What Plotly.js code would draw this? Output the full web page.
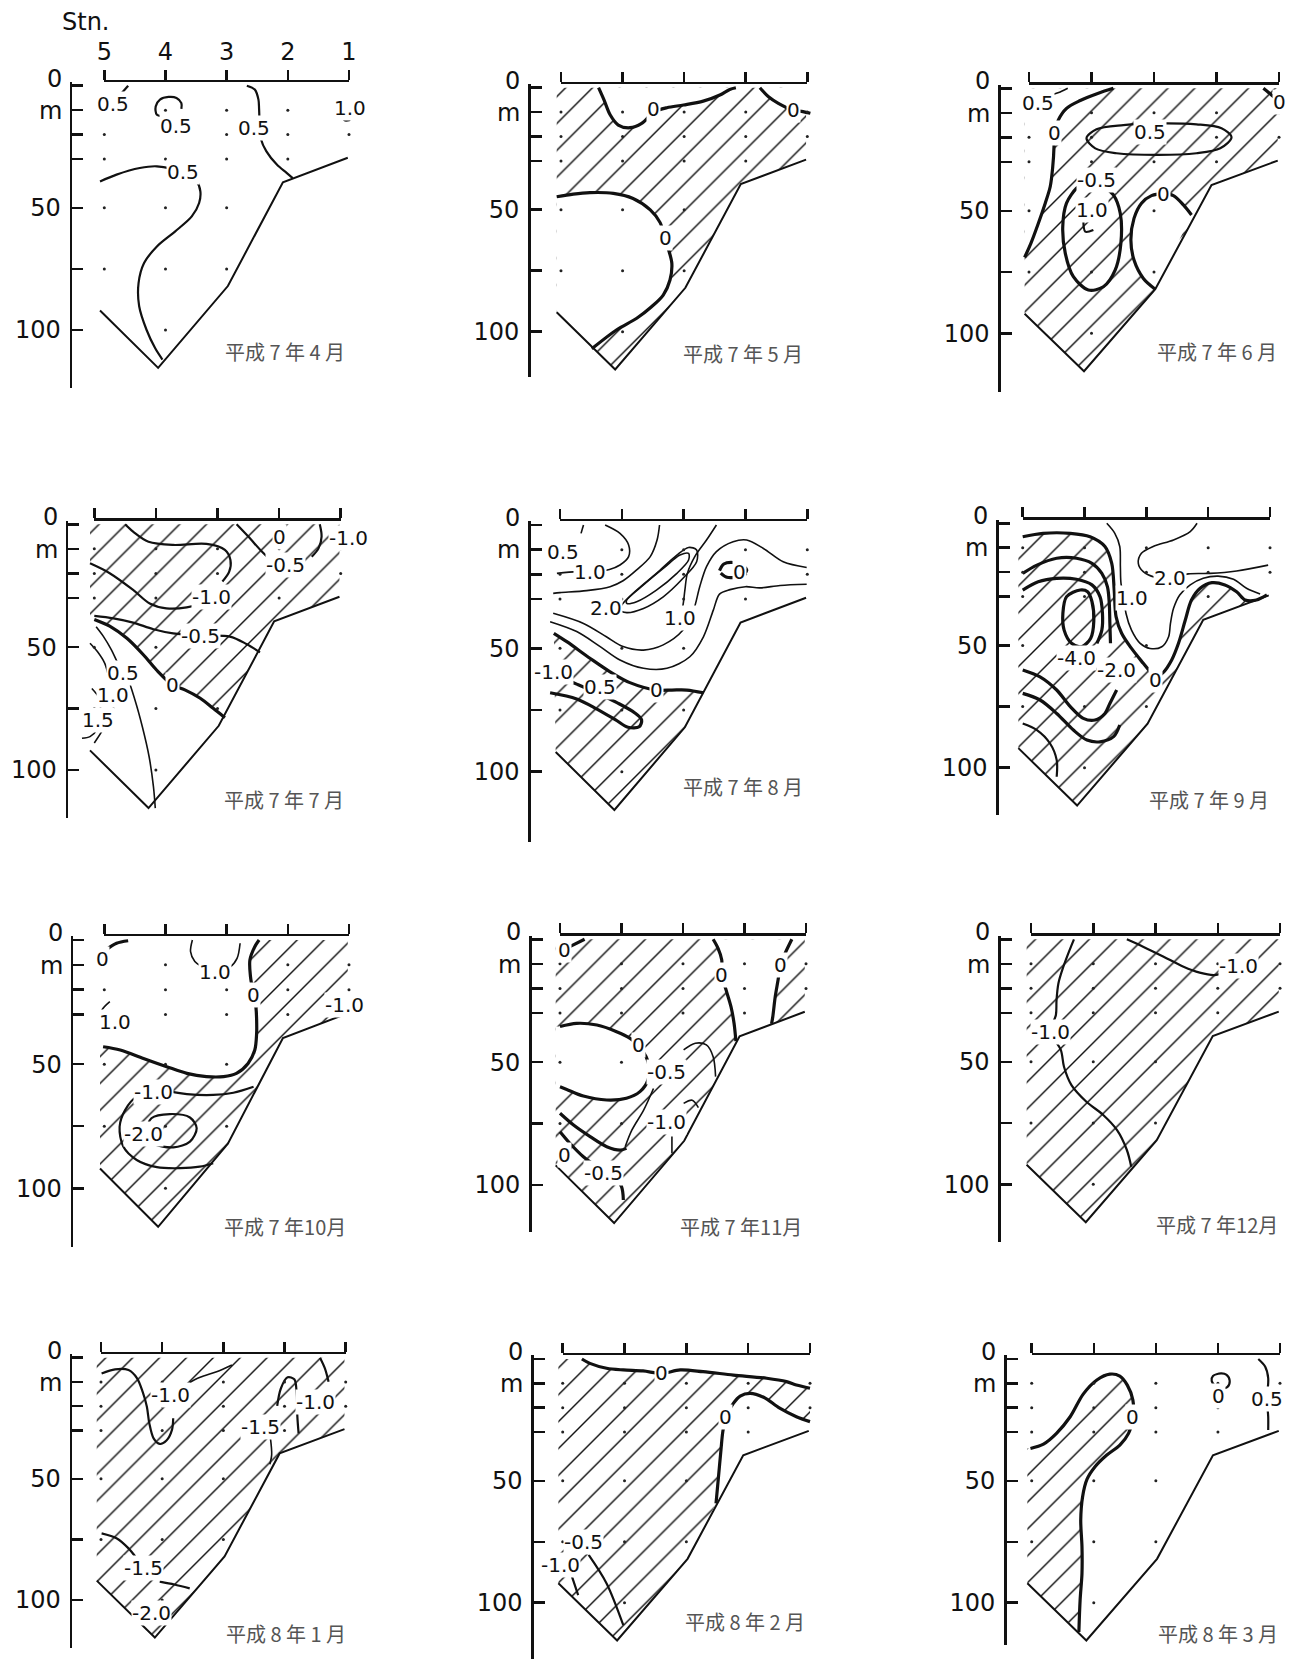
<!DOCTYPE html>
<html><head><meta charset="utf-8">
<script src="https://cdn.plot.ly/plotly-3.0.1.min.js"></script>
<style>html,body{margin:0;padding:0;background:#fff}#chart{width:1294px;height:1660px}</style>
</head><body><div id="chart"></div>
<script>
// ---------- common data ----------
const STATIONS = [5,4,3,2,1];
const STATION_BOTTOM = [92,115,82,39,29.5];
const SAMPLE_DEPTHS = [10,20,30,50,75,100];
const SEABED = [[5.07,92],[4.12,115.5],[2.98,82],[2.08,39.5],[1.02,29.5]];
const SURFACE = [[5.07,0],[1.02,0]];
const DEPTH_TICKS = [0,10,20,30,50,75,100];
const DEPTH_TICKTEXT = ['','','','','50','','100'];
const DEPTH_TOP_LABELS = [['0',-2.8],['m',10.3]];
const MONTHS = ['平成 7 年 4 月','平成 7 年 5 月','平成 7 年 6 月','平成 7 年 7 月','平成 7 年 8 月','平成 7 年 9 月',
                '平成 7 年10月','平成 7 年11月','平成 7 年12月','平成 8 年 1 月','平成 8 年 2 月','平成 8 年 3 月'];

// ---------- April ----------
const apr_c1 = [[4.61,0],[4.74,3.7]];
const apr_loop = [[3.74,9.5],[3.74,7.1],[3.82,5.0],[3.95,4.6],[4.09,5.7],[4.16,8.5],[4.14,11.9],[3.98,12.6]];
const apr_c2 = [[2.67,0],[2.54,1.6],[2.48,5.7],[2.47,9.5],[2.46,16],[2.44,21.8],[2.35,26.9],[2.18,32.3],[2.02,35.7],[1.92,37.8]];
const apr_hook = [[1.10,12.0],[1.07,14.2],[0.98,14.0]];
const apr_c3 = [[5.07,39.2],[4.80,36.4],[4.42,33.7],[4.14,33.0],[3.72,35.5],[3.49,39.2],[3.43,43.2],[3.45,48.0],[3.57,53.5],[3.84,59.6],[4.14,65.8],[4.35,72.6],[4.44,80.8],[4.43,90.3],[4.31,99.9],[4.17,107.4],[4.05,112.1]];
const apr_labels = [[4.86,7.5,'0.5'],[3.82,16.4,'0.5'],[2.56,17.3,'0.5'],[0.98,9.1,'1.0'],[3.72,35.5,'0.5']];

// ---------- May ----------
const may_c0a = [[4.39,0],[4.30,5.1],[4.20,11.2],[4.07,15.3],[3.88,16.4],[3.69,14.6],[3.49,10],[3.28,8.2],[3.01,7.1],[2.69,5.5],[2.42,3.0],[2.26,0.7],[2.16,0]];
const may_c0b = [[1.77,0],[1.63,3.7],[1.47,6.4],[1.23,9.2],[1.07,9.8],[0.95,10.5]];
const may_c0c = [[5.07,44.7],[4.80,43.6],[4.53,43.0],[4.15,43.3],[3.83,45.4],[3.55,50.1],[3.39,55.3],[3.31,61.7],[3.26,65.8],[3.20,72.0],[3.23,78.8],[3.34,85.0],[3.53,89.8],[3.77,94.5],[4.10,99.3],[4.5,107]];
const may_labels = [[3.49,8.9,'0'],[1.23,9.2,'0'],[3.31,61.7,'0']];

// ---------- June ----------
const jun_c0left = [[3.65,0],[3.89,2.0],[4.18,5.0],[4.40,8.2],[4.53,12.9],[4.60,18.4],[4.60,23.8],[4.62,32.0],[4.66,40.1],[4.74,46.9],[4.85,55.1],[4.97,63.3],[5.07,69]];
const jun_c05a = [[4.38,0],[4.50,1.5],[4.62,2.5]];
const jun_oval05 = [[4.08,20.4],[3.92,16.7],[3.49,15.0],[2.93,14.3],[2.32,14.7],[1.92,16.3],[1.76,20.0],[1.94,24.5],[2.32,26.5],[2.93,27.2],[3.60,26.5],[3.94,24.5],[4.08,20.4]];
const jun_ovalm05 = [[4.24,40.8],[4.40,46.9],[4.46,56.5],[4.42,67.3],[4.29,76.9],[4.05,82.3],[3.81,81.0],[3.62,74.1],[3.53,63.3],[3.54,51.0],[3.65,43.5],[3.81,40.1],[4.0,39.0],[4.18,39.9],[4.24,40.8]];
const jun_hook10 = [[4.13,53.7],[4.10,58.5],[3.97,57.8]];
const jun_c0oval = [[2.40,51.7],[2.53,47.6],[2.69,43.8],[2.85,43.1],[3.04,43.8],[3.20,46.9],[3.32,53.1],[3.37,61.9],[3.32,70.1],[3.17,77.6],[2.98,82.0]];
const jun_c0tr = [[1.25,0],[1.12,2.7],[1.06,4.0]];
const jun_labels = [[4.86,6.0,'0.5'],[4.60,18.4,'0'],[3.06,17.7,'0.5'],[3.92,37.4,'-0.5'],[4.0,49.7,'1.0'],[2.85,43.1,'0'],[1.0,5.4,'0']];

// ---------- July ----------
const jul_L1 = [[4.50,0],[4.37,3.0],[4.12,7.1],[3.72,8.4],[3.18,8.0],[2.88,10.4],[2.79,14.5],[2.81,19.3],[2.92,23.3]];
const jul_L2 = [[5.07,15.9],[4.75,19.9],[4.37,26.7],[4.10,32.2],[3.83,34.2],[3.50,33.8],[3.28,32.2],[3.09,29.4]];
const jul_L3 = [[5.0,37.3],[4.69,38.3],[4.37,40.0],[4.04,42.7],[3.72,44.4],[3.28,45.3],[2.80,45.7],[2.53,48.7],[2.31,52.1]];
const jul_L4 = [[5.0,38.7],[4.75,41.4],[4.47,46.4],[4.20,53.2],[3.99,59.3],[3.73,65.4],[3.53,67.4],[3.28,70.8],[3.07,74.9],[2.88,78.7]];
const jul_L5 = [[2.69,0],[2.50,5.0],[2.28,11.1],[2.10,15.5]];
const jul_L7 = [[1.34,0],[1.31,5.0],[1.36,9.8],[1.47,13.2]];
const jul_L05 = [[4.97,41.7],[4.85,45.7],[4.72,51.2],[4.63,55.9],[4.53,60.4],[4.46,62.7],[4.34,71.5],[4.22,82.4],[4.11,94.6],[4.04,106.8],[4.01,115.5]];
const jul_L10 = [[5.07,48.4],[4.95,51.8],[4.83,56.6],[4.76,62.7],[4.70,69.5],[4.69,74.9],[4.80,81.0],[5.0,89]];
const jul_L15 = [[5.04,66.8],[4.92,70.8],[4.90,75.6],[4.94,80],[4.96,83.7],[5.07,86.4],[5.2,87.1]];
const jul_labels = [[1.99,5.0,'0'],[1.90,16.6,'-0.5'],[0.88,5.5,'-1.0'],[3.09,29.4,'-1.0'],[3.28,45.3,'-0.5'],[3.73,65.4,'0'],[4.53,60.4,'0.5'],[4.70,69.5,'1.0'],[4.94,79.6,'1.5']];

// ---------- August ----------
const aug_A = [[4.62,0],[4.66,3.4]];
const aug_B = [[4.27,0],[4.03,3.4],[3.89,8.1],[3.89,12.8],[4.03,16.2],[4.20,18.0],[4.51,18.9],[4.73,18.9],[5.05,19.6]];
const aug_C = [[3.39,0],[3.43,6.1],[3.54,12.8],[3.76,18.2],[3.98,22.6],[4.19,25.0],[4.57,26.6],[5.0,27.4],[5.11,27.7]];
const aug_D1 = [[4.0,32.4],[3.76,26.4],[3.44,19.6],[3.11,12.2],[2.92,9.1],[2.79,10.1],[2.79,14.9],[3.01,21.6],[3.33,29.1],[3.65,33.8],[3.92,35.5],[4.03,34.5],[4.0,32.4]];
const aug_D2 = [[3.92,30.4],[3.65,24.3],[3.33,17.6],[3.06,12.2],[2.92,11.5],[2.92,14.2],[3.11,19.6],[3.44,26.4],[3.76,31.1],[3.92,31.8],[3.92,30.4]];
const aug_E = [[2.47,0],[2.63,6.1],[2.82,12.8],[2.94,19.6],[2.98,26.4],[3.01,32.4],[3.06,37.8]];
const aug_F1 = [[5.11,35.8],[4.62,39.9],[4.25,45.3],[3.98,49.3],[3.65,50.7],[3.33,48.6],[3.01,42.6],[2.84,34.5],[2.74,25.0],[2.63,16.9],[2.47,10.8],[2.20,6.8],[1.98,6.1],[1.71,9.5],[1.39,14.9],[1.01,17.2]];
const aug_F2 = [[5.16,39.2],[4.73,43.2],[4.35,49.3],[4.03,54.7],[3.65,58.1],[3.27,58.1],[2.90,53.4],[2.68,45.3],[2.52,34.5],[2.42,28],[2.25,26.2],[2.0,25],[1.77,25.5],[1.44,24.5],[1.01,24.0]];
const aug_swirl = [[2.42,18.5],[2.35,15.8],[2.2,15.2],[2.05,16.3],[1.98,18.5],[2.1,20.8],[2.3,21.2],[2.4,19.5]];
const aug_F3 = [[5.10,43.9],[4.89,47.3],[4.51,54.1],[4.19,59.5],[3.87,63.9],[3.44,66.9],[3.19,66.9],[2.95,66.9],[2.68,68]];
const aug_loop = [[5.16,60],[4.73,64.5],[4.41,68],[4.08,72],[3.80,76],[3.68,79],[3.72,81.8],[3.90,82],[4.10,79],[4.41,74.5],[4.73,70.5],[5.16,68]];
const aug_labels = [[4.95,10.8,'0.5'],[4.51,18.9,'1.0'],[4.25,33.8,'2.0'],[3.06,37.8,'1.0'],[2.09,19.0,'0'],[5.11,59.5,'-1.0'],[4.35,65.5,'0.5'],[3.44,66.9,'0']];

// ---------- September ----------
const sep_c0 = [[5.0,5.5],[4.67,4.1],[4.23,4.1],[3.91,5.5],[3.67,9.5],[3.56,16.4],[3.52,27.3],[3.49,38.2],[3.40,45.0],[3.24,51.2],[3.05,57.3],[2.94,60.7],[2.86,63],[2.73,61.1],[2.59,55.9],[2.48,49.1],[2.37,39.6],[2.27,31.4],[2.13,26.6],[1.94,24.3],[1.73,25.2],[1.54,28.0],[1.40,31.4],[1.22,31.4],[1.05,29.3]];
const sep_10 = [[3.64,0],[3.51,4.1],[3.43,9.5],[3.42,17.7],[3.41,24.6],[3.36,30.7],[3.33,36.8],[3.24,43.7],[3.10,49.1],[2.94,51.2],[2.75,50.5],[2.64,46.4],[2.61,40.9],[2.56,34.8],[2.46,29.3],[2.29,25.2],[2.08,22.5],[1.84,21.6],[1.59,22.9],[1.38,26.6],[1.16,28.9]];
const sep_20 = [[2.18,0],[2.29,3.4],[2.56,6.8],[2.89,9.5],[3.08,12.3],[3.13,16.4],[3.05,19.8],[2.86,22.1],[2.62,22.5],[2.32,20.7],[1.97,20.5],[1.54,19.5],[1.03,17.1]];
const sep_I1 = [[5.0,20.5],[4.77,17.1],[4.45,14.3],[4.13,14.3],[3.88,16.4],[3.72,20.5],[3.63,25.9],[3.60,32.7],[3.59,40.9],[3.58,49.1]];
const sep_I2 = [[5.0,27.3],[4.75,23.9],[4.45,22.5],[4.13,22.9],[3.88,25.2],[3.75,30.0],[3.71,36.8],[3.72,43.7],[3.80,49.1]];
const sep_oval = [[4.07,27.3],[4.29,30.0],[4.35,36.8],[4.33,43.7],[4.21,49.1],[4.05,50.5],[3.90,47],[3.85,40],[3.88,32],[3.95,28],[4.07,27.3]];
const sep_L1 = [[5.0,60],[4.72,62.8],[4.45,68.2],[4.23,75.0],[4.02,79.8],[3.83,80.5],[3.67,77.8],[3.59,73.7],[3.48,68.2]];
const sep_L2 = [[5.0,69.6],[4.72,72.3],[4.45,77.8],[4.18,84.6],[3.96,88.7],[3.75,89.4],[3.53,87.3],[3.43,82.5]];
const sep_L3 = [[5.0,81.9],[4.77,84.6],[4.56,90.0],[4.45,96.9],[4.45,103.7]];
const sep_labels = [[3.24,30.7,'1.0'],[2.62,22.5,'2.0'],[4.13,55.3,'-4.0'],[3.48,60.0,'-2.0'],[2.86,64.1,'0']];

// ---------- October ----------
const oct_c0 = [[5.02,43.0],[4.74,44.3],[4.36,47.7],[3.98,51.0],[3.65,53.7],[3.33,55.0],[3.05,55.0],[2.84,53.7],[2.65,49.7],[2.54,44.3],[2.51,37.6],[2.51,32.2],[2.52,27.5],[2.56,22.1],[2.61,14.8],[2.62,8.1],[2.54,2.7],[2.47,0]];
const oct_m10 = [[2.56,59.1],[2.89,61.5],[3.22,62.4],[3.65,62.1],[3.95,61.1],[4.20,61.5],[4.47,63.1],[4.66,68.5],[4.75,75.2],[4.69,83.2],[4.47,88.6],[4.14,91.5],[3.76,91.9],[3.44,91.3],[3.22,89.9]];
const oct_m20 = [[3.49,75.8],[3.60,71.5],[3.93,70.1],[4.23,71.8],[4.31,77.2],[4.20,81.9],[3.87,83.5],[3.60,81.2],[3.49,75.8]];
const oct_10top = [[3.56,0],[3.59,4.7],[3.52,8.7],[3.41,10.7],[3.19,12.8],[2.95,11.0],[2.83,7.4],[2.78,1.3]];
const oct_arc = [[4.91,24.8],[5.04,28.2],[5.07,32.2],[5.04,36.2],[4.96,36.9]];
const oct_tl = [[4.96,3.8],[4.80,1.3],[4.61,0.3]];
const oct_labels = [[5.03,7.5,'0'],[3.19,12.8,'1.0'],[2.56,22.1,'0'],[4.83,32.9,'1.0'],[1.07,26.2,'-1.0'],[4.20,61.1,'-1.0'],[4.36,78,'-2.0']];

// ---------- November ----------
const nov_a = [[5.0,35.5],[4.73,34.2],[4.40,34.9],[4.08,37.6],[3.86,40.3],[3.73,43.0],[3.60,47.8],[3.55,51.8],[3.57,57.3],[3.70,62.0],[3.92,64.7],[4.24,65.4],[4.62,63.8],[4.89,61.1],[5.0,60.0]];
const nov_bL = [[2.51,0],[2.43,3.7],[2.37,8.4],[2.37,14.5],[2.30,20.6],[2.22,27.4],[2.17,34.2],[2.14,41.4]];
const nov_bR = [[1.23,0],[1.34,5.7],[1.42,10.4],[1.45,15.9],[1.50,23.3],[1.54,31.5],[1.56,34.4]];
const nov_tl = [[4.84,3],[4.6,0]];
const nov_c1 = [[5.0,70.8],[4.78,75.6],[4.51,80.3],[4.24,84.4],[4.02,85.8],[3.92,85.1]];
const nov_c2 = [[5.0,78.3],[4.84,83.0],[4.62,88.5],[4.40,92.5],[4.13,96.6],[4.0,100.7],[3.97,106.1]];
const nov_c4 = [[3.48,60.7],[3.64,69.5],[3.83,77.6],[3.94,84.4]];
const nov_c5 = [[2.99,45.0],[2.80,42.3],[2.62,43.0],[2.51,47.8],[2.47,55.9]];
const nov_c6 = [[2.99,66.8],[2.85,65.5],[2.75,68.5]];
const nov_c7 = [[3.18,80.3],[3.18,87.1]];
const nov_labels = [[4.93,4.3,'0'],[2.37,14.5,'0'],[1.42,10.4,'0'],[3.73,43.0,'0'],[3.27,53.9,'-0.5'],[3.27,74.2,'-1.0'],[4.93,87.8,'0'],[4.30,95.3,'-0.5']];

// ---------- December ----------
const dec_top = [[3.46,0],[3.20,3.0],[2.87,7.1],[2.55,11.2],[2.29,13.6],[2.06,14.6],[1.88,13.5]];
const dec_left = [[4.31,0],[4.38,4.4],[4.48,11.2],[4.56,18.0],[4.59,24.8],[4.60,30.9],[4.69,37.7],[4.52,45.2],[4.47,52.0],[4.35,59.5],[4.11,66.3],[3.84,71.7],[3.62,77.8],[3.46,86.0],[3.39,92.8]];
const dec_labels = [[1.67,10.9,'-1.0'],[4.69,37.7,'-1.0']];

// ---------- January ----------
const jan_m10a = [[4.99,6.5],[4.77,4.8],[4.55,5.1],[4.41,8.5],[4.32,14.0],[4.25,20.2],[4.21,27.1],[4.14,33.3],[4.04,35.6],[3.93,34.2],[3.84,29.8],[3.82,25.0]];
const jan_thin = [[3.60,10.9],[3.38,8.1],[3.11,5.8],[2.86,3.0]];
const jan_U = [[2.12,19.9],[2.06,12.7],[1.95,8.1],[1.84,8.9],[1.80,15.4],[1.79,24.3],[1.77,31.2]];
const jan_m15v = [[2.23,33.3],[2.21,40],[2.24,44]];
const jan_r = [[1.42,0],[1.34,4.4],[1.28,9.9]];
const jan_m15 = [[4.99,72.5],[4.74,74.6],[4.55,78.7],[4.43,82.4],[4.31,86.9]];
const jan_m20 = [[4.04,92.4],[3.80,93.6],[3.55,95.2]];
const jan_labels = [[3.87,15.5,'-1.0'],[2.40,28.5,'-1.5'],[1.50,18.2,'-1.0'],[4.31,86.9,'-1.5'],[4.17,105.5,'-2.0']];

// ---------- February ----------
const feb_top = [[4.69,0],[4.56,1.8],[4.29,3.8],[4.02,4.5],[3.70,4.9],[3.40,5.9],[3.10,4.5],[2.73,5.2],[2.24,6.6],[1.70,7.9],[1.38,9.3],[1.22,10.7],[1.0,12.0]];
const feb_second = [[1.0,25.7],[1.22,23.7],[1.49,20.2],[1.75,15.7],[1.97,14.1],[2.13,15.2],[2.24,18.2],[2.36,23.7],[2.41,29.8],[2.44,37.3],[2.48,48.3],[2.52,59.2]];
const feb_m05 = [[4.58,80.4],[4.29,92.1],[4.02,109.2]];
const feb_m10 = [[4.85,89.3],[4.75,96.9]];
const feb_labels = [[3.40,5.9,'0'],[2.36,23.7,'0'],[4.67,75.0,'-0.5'],[5.04,84.5,'-1.0']];

// ---------- March ----------
const mar_c0 = [[5.02,36.7],[4.81,34.9],[4.60,30.5],[4.38,23.7],[4.17,14.4],[3.95,8.6],[3.74,6.2],[3.58,7.0],[3.46,10.7],[3.37,16.8],[3.37,23.9],[3.44,30.5],[3.58,35.3],[3.79,39.4],[3.98,44.2],[4.11,49.4],[4.18,56.5],[4.21,66.1],[4.19,77.0],[4.19,88.0],[4.22,98.9],[4.24,112]];
const mar_05 = [[1.35,0],[1.24,3.1],[1.19,7.9],[1.21,16.4],[1.19,23.7],[1.19,29.1]];
const mar_loop = [[1.95,5.9],[2.08,7],[2.10,9],[2.0,12],[1.85,11.5],[1.81,9],[1.86,6.5],[1.95,5.9]];
const mar_labels = [[3.37,23.9,'0'],[1.99,15.2,'0'],[1.21,16.4,'0.5']];

// ---------- assembly ----------
const SECTION = SURFACE.concat(SEABED.slice().reverse());
const SEABED_FROM_ST3 = [[2.98,82],[4.12,115.5],[5.07,92]];

const panels = [
  {hatch:[], blank:[], thick:[], medium:[apr_c1,apr_loop,apr_c2,apr_hook,apr_c3], thin:[], labels:apr_labels},
  {hatch:[SECTION], blank:[may_c0a, may_c0b.concat([[0.95,0]]), may_c0c.concat([[5.07,92]])],
   thick:[may_c0a,may_c0b,may_c0c], medium:[], thin:[], labels:may_labels},
  {hatch:[SECTION], blank:[jun_c0left.concat([[5.07,0]]), jun_c0oval],
   thick:[jun_c0left,jun_c0oval,jun_ovalm05,jun_c0tr], medium:[jun_oval05,jun_hook10], thin:[jun_c05a], labels:jun_labels},
  {hatch:[SECTION], blank:[[[5.07,38.7]].concat(jul_L4, SEABED_FROM_ST3)],
   thick:[jul_L4], medium:[jul_L1,jul_L2,jul_L3,jul_L5,jul_L7], thin:[jul_L05,jul_L10,jul_L15], labels:jul_labels},
  {hatch:[aug_F3.concat(SEABED_FROM_ST3)], blank:[],
   thick:[aug_F3,aug_loop,aug_swirl], medium:[], thin:[aug_A,aug_B,aug_C,aug_D1,aug_D2,aug_E,aug_F1,aug_F2], labels:aug_labels},
  {hatch:[[[5.07,5.5]].concat(sep_c0, SEABED.slice().reverse())], blank:[],
   thick:[sep_c0,sep_I1,sep_I2,sep_oval,sep_L1,sep_L2], medium:[sep_L3], thin:[sep_10,sep_20], labels:sep_labels},
  {hatch:[SECTION], blank:[[[5.07,0],[5.07,43]].concat(oct_c0)],
   thick:[oct_c0,oct_tl], medium:[oct_m10,oct_m20], thin:[oct_10top,oct_arc], labels:oct_labels},
  {hatch:[SECTION], blank:[[[5.07,35.5]].concat(nov_a,[[5.07,60]]), nov_bL.concat([[2.08,39.5]], nov_bR.slice().reverse()), [[5.07,0],[4.6,0],[4.84,3],[5.07,6]]],
   thick:[nov_a,nov_bL,nov_bR,nov_tl,nov_c1,nov_c2], medium:[], thin:[nov_c4,nov_c5,nov_c6,nov_c7], labels:nov_labels},
  {hatch:[SECTION], blank:[], thick:[], medium:[dec_top,dec_left], thin:[], labels:dec_labels},
  {hatch:[SECTION], blank:[], thick:[], medium:[jan_m10a,jan_U,jan_m15,jan_m20,jan_r], thin:[jan_thin,jan_m15v], labels:jan_labels},
  {hatch:[[[5.07,0]].concat(feb_top, feb_second, SEABED_FROM_ST3)], blank:[],
   thick:[feb_top,feb_second], medium:[feb_m05,feb_m10], thin:[], labels:feb_labels},
  {hatch:[[[5.07,36.7]].concat(mar_c0,[[5.07,92]])], blank:[],
   thick:[mar_c0], medium:[mar_05,mar_loop], thin:[], labels:mar_labels}
];

// ---------- layout positions (pixels) ----------
// [station5 x, station1 x, depth0 y, depth100 y, depth-axis x, depth-axis bottom y, month-label right (stn), month-label depth]
const geom = [
  [104.3,349,85.7,330,70.7,388,1.04,108.9],
  [561,807.3,87.7,331.7,529,377,1.03,108.9],
  [1029,1279,88.3,333.3,999.3,392,1.0,107.5],
  [94.3,340.7,524.3,770,66.7,818,0.92,112.2],
  [560,807.3,525,771.7,529.3,842,1.04,106.1],
  [1022.7,1270,523.3,767.7,997.3,815,0.98,113.2],
  [104.3,349,940,1188.3,71.7,1247,1.01,115.5],
  [560,806,939.3,1185,530,1232,1.04,117],
  [1031,1280,939.3,1184.3,999.3,1242,1.0,116.6],
  [101,345.7,1357.7,1600,70.7,1648,0.97,113.7],
  [562.7,810,1359,1602.7,532.3,1659,1.05,107.8],
  [1031.7,1280,1359,1602.7,1005,1645,1.0,112.6]
];

const W=1294, H=1660, XL=5.3, YT=-1.5;
const NUMFONT = 'DejaVu Sans, Verdana, sans-serif';
const data=[], annotations=[];
const layout = {width:W, height:H, margin:{l:0,r:0,t:0,b:0}, paper_bgcolor:'white', plot_bgcolor:'rgba(0,0,0,0)',
  showlegend:false, hovermode:false, annotations:annotations};

const X = a => a.map(p => p ? p[0] : null);
const Y = a => a.map(p => p ? p[1] : null);

const dotX=[], dotY=[];
STATIONS.forEach((s,j) => SAMPLE_DEPTHS.forEach(d => { if (d <= STATION_BOTTOM[j]-4) { dotX.push(s); dotY.push(d); } }));

panels.forEach((P,i) => {
  const k=i+1;
  const [X5,X1,Y0,Y100,AX,BOT,MX,MD] = geom[i];
  const dxs=(X1-X5)/4, dys=(Y100-Y0)/100;
  const left = X5-(XL-5)*dxs;
  const right = Math.min(W-1, X1+0.2*dxs);
  const xr = 1-(right-X1)/dxs;
  const top = Y0+YT*dys;
  const ybot = (BOT-Y0)/dys;
  const xid = k===1?'x':'x'+k, yid = k===1?'y':'y'+k;
  const xname = k===1?'xaxis':'xaxis'+k, yname = k===1?'yaxis':'yaxis'+k;
  layout[xname] = {domain:[left/W, right/W], range:[XL, xr], visible:false, fixedrange:true};
  layout[yname] = {domain:[Math.max(0,1-BOT/H), 1-top/H], range:[ybot, YT], anchor:'free', position:AX/W,
    showline:true, linecolor:'#111', linewidth:2.5, ticks:'inside', ticklen:11, tickwidth:2.5, tickcolor:'#111',
    tickmode:'array', tickvals:DEPTH_TICKS, ticktext:DEPTH_TICKTEXT, ticklabelstandoff:4,
    tickfont:{family:NUMFONT, size:24, color:'#111'}, showgrid:false, zeroline:false, fixedrange:true};
  const dk = 12+k;
  layout['xaxis'+dk] = {domain:[X5/W, X1/W], range:[5,1], anchor:yid, side:'top',
    showline:true, linecolor:'#111', linewidth:2.5, ticks:'outside', ticklen:10, tickwidth:2.5, tickcolor:'#111',
    tickmode:'array', tickvals:STATIONS, ticktext:STATIONS.map(String), showticklabels:k===1,
    tickfont:{family:NUMFONT, size:24, color:'#111'}, showgrid:false, zeroline:false, fixedrange:true};
  data.push({type:'scatter', mode:'markers', x:[3], y:[50], marker:{opacity:0, size:1}, xaxis:'x'+dk, yaxis:yid, hoverinfo:'skip'});

  const base = {type:'scatter', xaxis:xid, yaxis:yid, hoverinfo:'skip', showlegend:false};
  P.hatch.forEach(poly => data.push(Object.assign({}, base, {mode:'lines', x:X(poly), y:Y(poly), fill:'toself',
    fillcolor:'white', fillpattern:{shape:'/', size:19, solidity:0.075, fgcolor:'#111', bgcolor:'white'},
    line:{width:0, color:'rgba(0,0,0,0)'}})));
  P.blank.forEach(poly => data.push(Object.assign({}, base, {mode:'lines', x:X(poly), y:Y(poly), fill:'toself',
    fillcolor:'white', line:{width:0, color:'rgba(0,0,0,0)'}})));
  data.push(Object.assign({}, base, {mode:'lines', x:X(SEABED), y:Y(SEABED), line:{color:'#111', width:2}}));
  const addLines = (arr, w) => arr.forEach(l => data.push(Object.assign({}, base, {mode:'lines', x:X(l), y:Y(l),
    line:{color:'#111', width:w, shape:'spline', smoothing:0.9}})));
  addLines(P.thin, 1.6);
  addLines(P.medium, 2.2);
  addLines(P.thick, 3.2);
  data.push(Object.assign({}, base, {mode:'markers', x:dotX, y:dotY, marker:{color:'#222', size:3}}));

  P.labels.forEach(L => annotations.push({xref:xid, yref:yid, x:L[0], y:L[1], text:L[2], showarrow:false,
    font:{family:NUMFONT, size:20, color:'#111'}, bgcolor:'white', borderpad:0, xanchor:'center', yanchor:'middle'}));
  annotations.push({xref:xid, yref:yid, x:MX, y:MD, text:MONTHS[i], showarrow:false, xanchor:'right', yanchor:'middle',
    font:{family:'Noto Sans CJK JP, Noto Sans CJK SC, sans-serif', size:20, color:'#555'}});
  // "0" and "m" beside the top of the depth axis (paper position derived from the depth scale)
  DEPTH_TOP_LABELS.forEach(T => annotations.push({xref:'paper', yref:'paper', x:(AX-7)/W, y:1-(Y0+T[1]*dys)/H,
    text:T[0], showarrow:false, xanchor:'right', yanchor:'middle', font:{family:NUMFONT, size:24, color:'#111'}}));
});

annotations.push({xref:'paper', yref:'paper', x:85/W, y:1-22/H, text:'Stn.', showarrow:false, xanchor:'center', yanchor:'middle',
  font:{family:NUMFONT, size:24, color:'#111'}});

Plotly.newPlot('chart', data, layout, {staticPlot:true, displayModeBar:false});
</script></body></html>
